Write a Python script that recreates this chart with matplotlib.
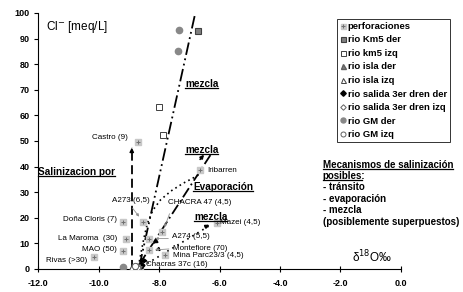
import numpy as np
import matplotlib.pyplot as plt
from matplotlib.lines import Line2D

plt.rcParams['font.family'] = ['Liberation Sans', 'DejaVu Sans']

# perforaciones (wells): name, d18O, Cl
well_names = ['Castro (9)', 'A273 (6,5)', 'Doña Cloris (7)', 'La Maroma  (30)', 'MAO (50)',
              'Rivas (>30)', 'CHACRA 47 (4,5)', 'A274 (5,5)', 'Montefiore (70)',
              'Mina Parc23/3 (4,5)', 'Chacras 37c (16)', 'Iribarren', 'Mazei (4,5)']
well_x = [-8.69, -8.54, -9.20, -9.10, -9.20, -10.14, -7.89, -8.33, -8.33, -7.81, -8.63, -6.64, -6.09]
well_y = [49.6, 18.2, 18.2, 11.6, 7.0, 4.6, 14.3, 11.8, 7.5, 5.3, 1.0, 38.5, 18.1]

# river samples
km5_der_x, km5_der_y = [-6.70], [92.8]
km5_izq_x, km5_izq_y = [-8.00, -7.86], [63.4, 52.3]
isla_der_x, isla_der_y = [-8.62], [1.4]
isla_izq_x, isla_izq_y = [-8.88, -8.76], [0.9, 1.1]
salida_der_x, salida_der_y = [-8.58], [1.6]
salida_izq_x, salida_izq_y = [-8.70], [0.8]
gm_der_x, gm_der_y = [-7.35, -7.38, -9.20], [93.5, 85.2, 0.8]
gm_izq_x, gm_izq_y = [-8.80], [1.0]

# label placement (data coords) and alignment for well names
lab_x = [-9.02, -8.93, -9.39, -9.39, -9.39, -10.38, -7.70, -7.57, -7.54, -7.54, -8.43, -6.41, -5.98]
lab_y = [51.2, 26.6, 19.5, 12.0, 7.8, 3.5, 25.8, 12.5, 8.2, 5.1, 1.6, 38.3, 18.0]
lab_ha = ['right', 'center', 'right', 'right', 'right', 'right', 'left', 'left', 'left',
          'left', 'left', 'left', 'left']

# interpretation lines
transit_x, transit_y = [-8.90, -8.90], [0.0, 47.5]
mix1_x, mix1_y = [-8.65, -6.80], [1.0, 100.0]
mix2_x, mix2_y = [-8.64, -6.30], [2.0, 44.5]
mix3_x, mix3_y = [-8.55, -6.25], [1.0, 17.5]
evap_x = [-8.68, -8.60, -8.50, -8.38, -8.20, -7.95, -7.60, -7.20, -6.80, -6.55]
evap_y = [1.0, 6.0, 12.0, 18.0, 23.0, 27.0, 30.5, 33.5, 36.0, 37.8]

fig = plt.figure(figsize=(4.64, 2.92), dpi=100)
ax = fig.add_axes([38/464, 1-269/292, (401-38)/464, (269-13)/292])

# lines first
ax.plot(mix1_x, mix1_y, color='black', lw=1.3, ls=(0, (7, 2, 1, 2, 1, 2)), zorder=2)
ax.plot(mix2_x, mix2_y, color='black', lw=1.3, ls=(0, (6, 2, 1, 2)), zorder=2)
ax.plot(mix3_x, mix3_y, color='black', lw=1.2, ls=(0, (1, 2.5)), zorder=2)
ax.plot(evap_x, evap_y, color='black', lw=1.2, ls=(0, (1, 2)), zorder=2)
ax.plot(transit_x, transit_y, color='black', lw=1.3, ls=(0, (5, 2.5)), zorder=2)
ax.annotate('', xy=(-8.90, 48.5), xytext=(-8.90, 45.0),
            arrowprops=dict(arrowstyle='-|>', color='black', lw=1, mutation_scale=6))

# short arrows marking mixing directions
arrows = [((-6.70, 42.0), (-6.45, 45.5)), ((-6.55, 16.0), (-6.25, 17.8)),
          ((-8.05, 11.0), (-8.28, 9.5)), ((-7.95, 8.0), (-8.22, 6.8)),
          ((-8.50, 4.0), (-8.70, 1.5)), ((-8.45, 3.5), (-8.60, 1.2))]
for (x0, y0), (x1, y1) in arrows:
    ax.annotate('', xy=(x1, y1), xytext=(x0, y0),
                arrowprops=dict(arrowstyle='-|>', color='black', lw=1.2, mutation_scale=5))

# gray leader lines from labels
leaders = [((-8.93, 24.6), (-8.60, 19.6)), ((-7.62, 22.6), (-7.85, 15.3)),
           ((-7.60, 11.9), (-8.22, 11.9)), ((-7.58, 7.9), (-8.22, 7.4))]
for (x0, y0), (x1, y1) in leaders:
    ax.annotate('', xy=(x1, y1), xytext=(x0, y0),
                arrowprops=dict(arrowstyle='-|>', color='#909090', lw=0.6, mutation_scale=4))

# markers
ms = 4.5
h_perf1, = ax.plot(well_x, well_y, 's', ms=ms, mfc='#c8c8c8', mec='#c8c8c8', ls='none', zorder=4)
h_perf2, = ax.plot(well_x, well_y, '+', ms=ms-1, mew=0.7, color='#707070', ls='none', zorder=5)
h_km5d, = ax.plot(km5_der_x, km5_der_y, 's', ms=ms, mfc='#808080', mec='#404040', mew=0.8, ls='none', zorder=4)
h_km5i, = ax.plot(km5_izq_x, km5_izq_y, 's', ms=ms, mfc='white', mec='#404040', mew=0.7, ls='none', zorder=4)
h_islad, = ax.plot(isla_der_x, isla_der_y, '^', ms=ms, mfc='#808080', mec='#606060', ls='none', zorder=4)
h_islai, = ax.plot(isla_izq_x, isla_izq_y, '^', ms=ms, mfc='white', mec='#404040', mew=0.7, ls='none', zorder=4)
h_sald, = ax.plot(salida_der_x, salida_der_y, 'D', ms=ms-1, mfc='black', mec='black', ls='none', zorder=4)
h_sali, = ax.plot(salida_izq_x, salida_izq_y, 'D', ms=ms-1, mfc='white', mec='#606060', mew=0.7, ls='none', zorder=4)
h_gmd, = ax.plot(gm_der_x, gm_der_y, 'o', ms=ms, mfc='#888888', mec='#888888', ls='none', zorder=4)
h_gmi, = ax.plot(gm_izq_x, gm_izq_y, 'o', ms=ms, mfc='white', mec='#606060', mew=0.7, ls='none', zorder=4)

for name, x, y, ha in zip(well_names, lab_x, lab_y, lab_ha):
    ax.text(x, y, name, fontsize=5.8, ha=ha, va='center', zorder=6)

# axes styling
ax.set_xlim(-12, 0)
ax.set_ylim(0, 100)
ax.set_xticks(np.arange(-12, 0.1, 2))
ax.set_xticklabels(['%.1f' % v for v in np.arange(-12, 0.1, 2)])
ax.set_yticks(np.arange(0, 101, 10))
for s in ['top', 'right']:
    ax.spines[s].set_visible(False)
ax.spines['left'].set_linewidth(0.8)
ax.spines['bottom'].set_linewidth(0.8)
ax.tick_params(axis='x', direction='inout', length=4, width=0.8, pad=5, labelsize=6.5)
ax.tick_params(axis='y', direction='out', length=3, width=0.8, pad=3, labelsize=6.5)
for lab in ax.get_xticklabels() + ax.get_yticklabels():
    lab.set_fontweight('bold')

leg = ax.legend([(h_perf1, h_perf2), h_km5d, h_km5i, h_islad, h_islai, h_sald, h_sali, h_gmd, h_gmi],
                ['perforaciones', 'rio Km5 der', 'rio km5 izq', 'rio isla der', 'rio isla izq',
                 'rio salida 3er dren der', 'rio salida 3er dren izq', 'rio GM der', 'rio GM izq'],
                loc='upper left', bbox_to_anchor=(337/464, 1-19/292), bbox_transform=fig.transFigure,
                prop={'weight': 'bold', 'size': 6.8}, frameon=True, fancybox=False,
                edgecolor='black', borderpad=0.3, labelspacing=0.48, handlelength=0.6,
                handletextpad=0.25, borderaxespad=0, markerscale=0.8)
leg.get_frame().set_linewidth(0.7)

# annotation texts
underlined = []
underlined.append(ax.text(-7.14, 72.3, 'mezcla', fontsize=7.2, fontweight='bold', va='center'))
underlined.append(ax.text(-7.14, 46.5, 'mezcla', fontsize=7.2, fontweight='bold', va='center'))
underlined.append(ax.text(-6.88, 32.0, 'Evaporación', fontsize=7.2, fontweight='bold', va='center'))
underlined.append(ax.text(-6.84, 20.3, 'mezcla', fontsize=7.2, fontweight='bold', va='center'))
underlined.append(ax.text(-12.0, 37.9, 'Salinizacion por', fontsize=7.2, fontweight='bold', va='center'))
underlined.append(ax.text(-2.59, 40.6, 'Mecanismos de salinización', fontsize=7.0, fontweight='bold', va='center'))
posibles = ax.text(-2.59, 36.3, 'posibles:', fontsize=7.0, fontweight='bold', va='center')
mech_lines = ['- tránsito', '- evaporación', '- mezcla', '(posiblemente superpuestos)']
for i, t in enumerate(mech_lines):
    ax.text(-2.59, 31.9 - i * 4.45, t, fontsize=7.0, fontweight='bold', va='center')

ax.text(-11.74, 94.5, 'Cl$^{-}$ [meq/L]', fontsize=8.5, va='center')
ax.text(-1.62, 4.7, 'δ$^{18}$O‰', fontsize=8.5, va='center')

# underline selected texts
fig.canvas.draw()
r = fig.canvas.get_renderer()
inv = fig.transFigure.inverted()
for t in underlined:
    bb = t.get_window_extent(renderer=r)
    (x0, y0), (x1, y1) = inv.transform([(bb.x0, bb.y0), (bb.x1, bb.y1)])
    fig.add_artist(Line2D([x0, x1], [y0 + 0.002, y0 + 0.002], color='black', lw=0.9,
                          transform=fig.transFigure))
# only the word "posibles" is underlined, not the colon
bb = posibles.get_window_extent(renderer=r)
colon_w = 0.35 * 7.0 * 100 / 72 * 0.85
(x0, y0), (x1, y1) = inv.transform([(bb.x0, bb.y0), (bb.x1 - colon_w, bb.y1)])
fig.add_artist(Line2D([x0, x1], [y0 + 0.002, y0 + 0.002], color='black', lw=0.9,
                      transform=fig.transFigure))

fig.savefig('out.png', dpi=100)
